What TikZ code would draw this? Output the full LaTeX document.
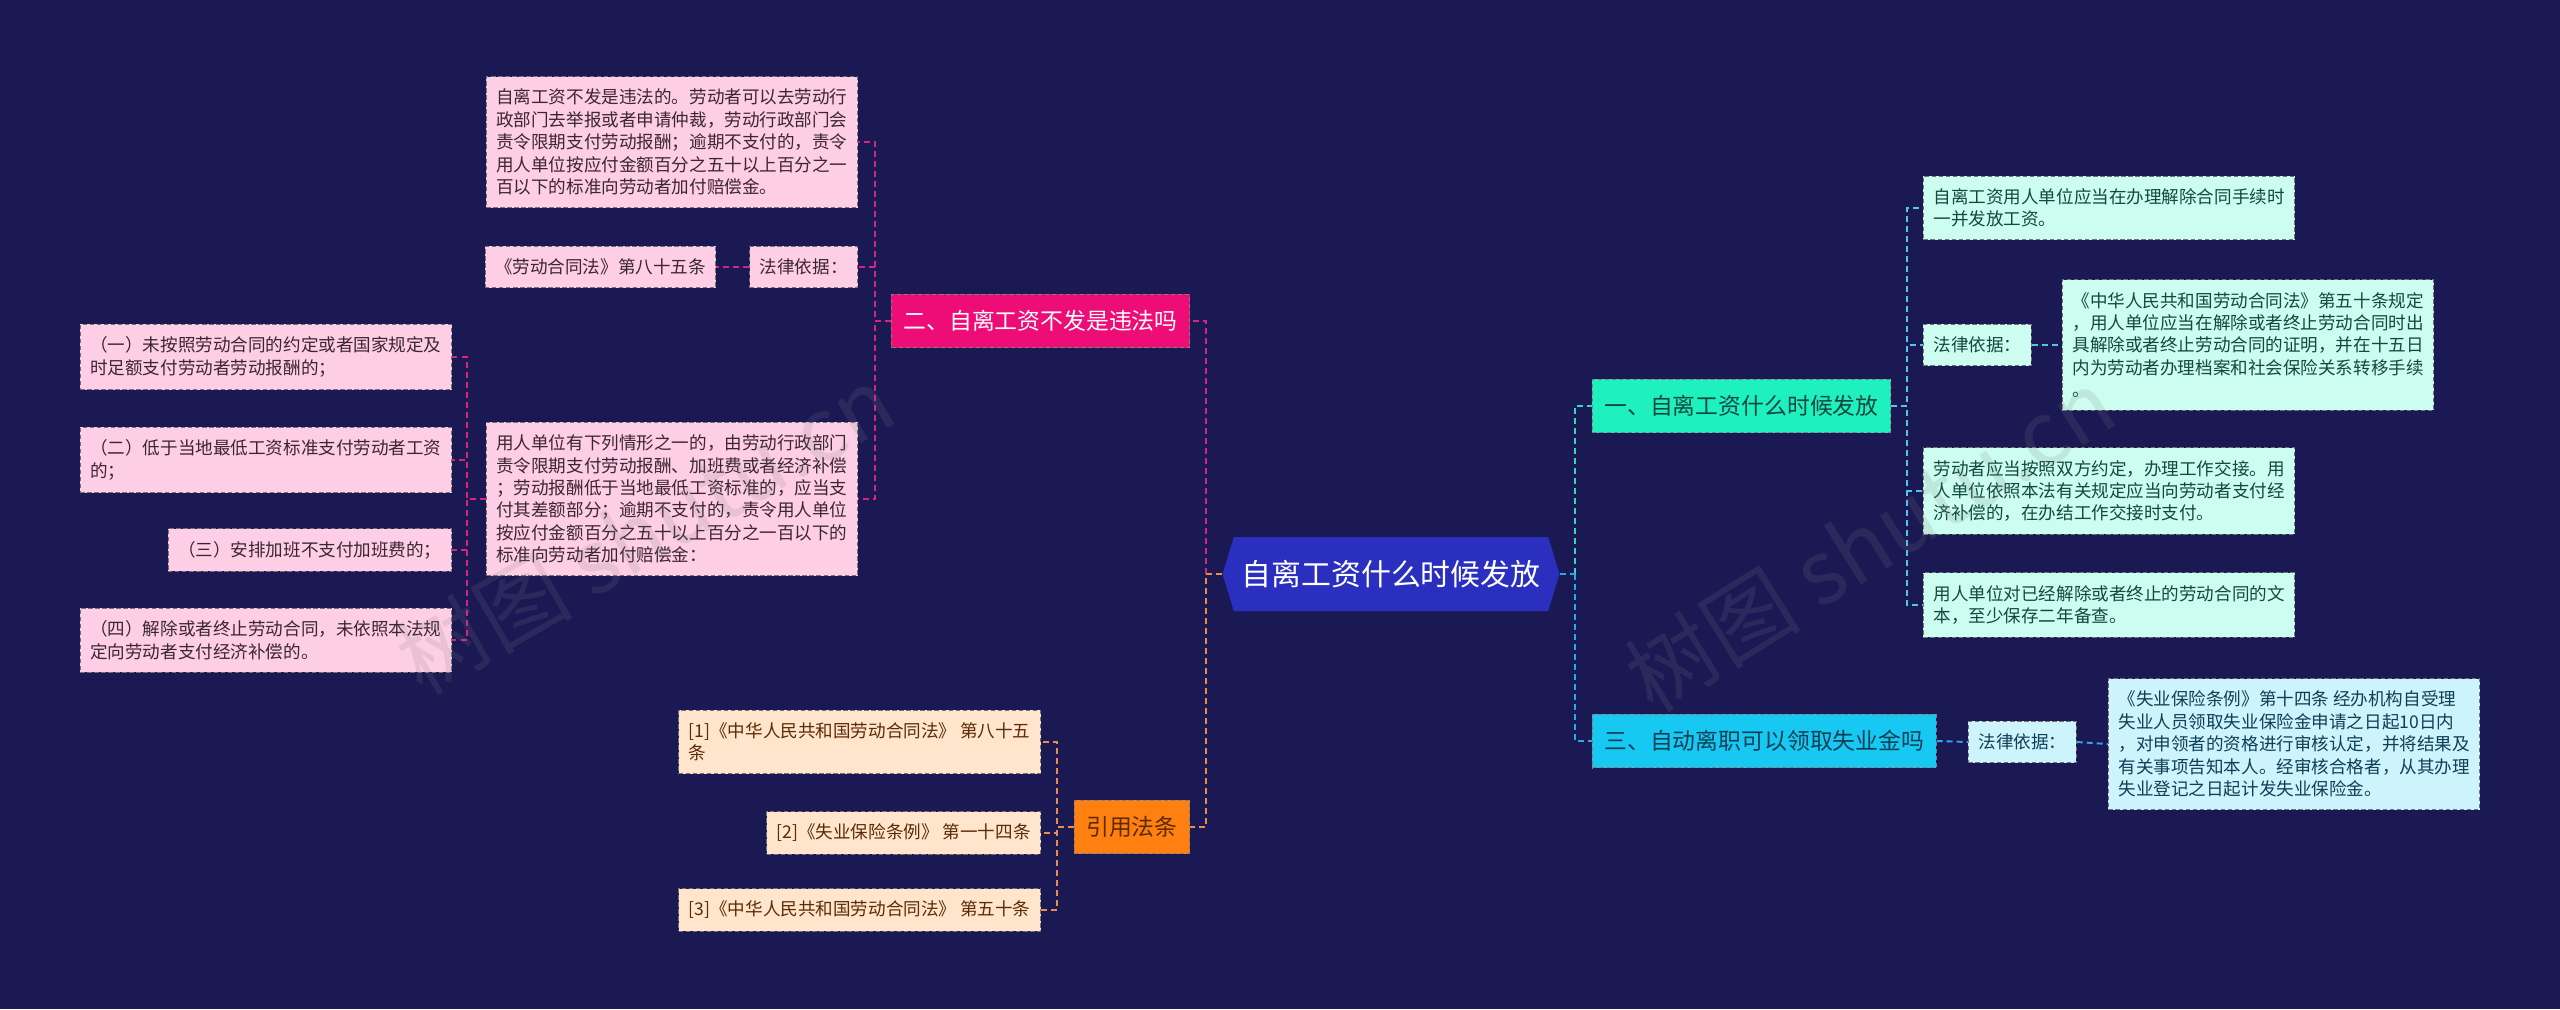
\documentclass[tikz,border=0pt]{standalone}
\usepackage{fontspec}
\setmainfont{Noto Sans CJK SC}
\usetikzlibrary{shapes.symbols,positioning,calc}
\definecolor{bg}{HTML}{1B1954}
\definecolor{rootc}{HTML}{2B2FC0}
\definecolor{pkc}{HTML}{EE0C76}
\definecolor{pkl}{HTML}{FDCEE5}
\definecolor{pkt}{HTML}{3C2535}
\definecolor{orc}{HTML}{FF7F10}
\definecolor{orl}{HTML}{FFE5CC}
\definecolor{ort}{HTML}{5C2A05}
\definecolor{gnc}{HTML}{1EF0C0}
\definecolor{gnl}{HTML}{CCFDF0}
\definecolor{gnt}{HTML}{12493F}
\definecolor{blc}{HTML}{17C9F2}
\definecolor{bll}{HTML}{CDF3FC}
\definecolor{blt}{HTML}{0F3F55}
\definecolor{pkd}{HTML}{D8237F}
\definecolor{ord}{HTML}{EE8C46}
\definecolor{gnd}{HTML}{3AD6BE}
\definecolor{bld}{HTML}{2BA8E8}
\definecolor{cyd}{HTML}{52C8E8}
\tikzset{
  leaf/.style={draw=black!55,dash pattern=on 2.5pt off 1.5pt,line width=0.5pt,align=left,font=\fontsize{10}{12.75}\selectfont,inner xsep=0.2cm,inner ysep=0.25cm},
  pkleaf/.style={leaf,fill=pkl,text=pkt},
  orleaf/.style={leaf,fill=orl,text=ort},
  gnleaf/.style={leaf,fill=gnl,text=gnt},
  blleaf/.style={leaf,fill=bll,text=blt},
  br/.style={draw=black!50,dash pattern=on 2.5pt off 1.5pt,line width=0.5pt,font=\fontsize{13}{15}\selectfont,inner xsep=0.24cm,inner ysep=0.32cm},
  pkbr/.style={br,fill=pkc,text=white},
  orbr/.style={br,fill=orc,text=ort},
  gnbr/.style={br,fill=gnc,text=gnt},
  blbr/.style={br,fill=blc,text=blt},
  root/.style={signal,signal to=west and east,signal pointer angle=146,fill=rootc,text=white,font=\fontsize{17}{20}\selectfont,minimum width=6.74cm,minimum height=1.48cm,inner sep=0pt},
  ln/.style={line width=1.1pt,dash pattern=on 3.4pt off 2.3pt},
  pkln/.style={ln,draw=pkd},
  orln/.style={ln,draw=ord},
  gnln/.style={ln,draw=gnd},
  blln/.style={ln,draw=bld},
  cyln/.style={ln,draw=cyd},
  mark wm/.style={text=gray,opacity=0.16,font=\fontsize{50}{50}\selectfont}
}

\begin{document}
\begin{tikzpicture}[x=0.02cm,y=-0.02cm]
\fill[bg](0,0)rectangle(2560,1009);
% trunks
\coordinate(tl)at(1206,0);
\coordinate(tr)at(1575,0);
\coordinate(ta)at(875,0);
\coordinate(tb)at(467,0);
\coordinate(tc)at(1057,0);
\coordinate(td)at(1907,0);
\node[root](root)at(1391,574){自离工资什么时候发放};
% left
\node[pkbr,anchor=east](b2)at(1190,321){二、自离工资不发是违法吗};
\node[pkleaf,anchor=east](p1)at(858,142){自离工资不发是违法的。劳动者可以去劳动行\\政部门去举报或者申请仲裁，劳动行政部门会\\责令限期支付劳动报酬；逾期不支付的，责令\\用人单位按应付金额百分之五十以上百分之一\\百以下的标准向劳动者加付赔偿金。};
\node[pkleaf,anchor=east](plaw)at(858,267){法律依据：};
\node[pkleaf,left=0.66cm of plaw](plawref){《劳动合同法》第八十五条};
\node[pkleaf,anchor=east](p3)at(858,499){用人单位有下列情形之一的，由劳动行政部门\\责令限期支付劳动报酬、加班费或者经济补偿\\；劳动报酬低于当地最低工资标准的，应当支\\付其差额部分；逾期不支付的，责令用人单位\\按应付金额百分之五十以上百分之一百以下的\\标准向劳动者加付赔偿金：};
\node[pkleaf,anchor=east](q1)at(452,357){（一）未按照劳动合同的约定或者国家规定及\\时足额支付劳动者劳动报酬的；};
\node[pkleaf,anchor=east](q2)at(452,460){（二）低于当地最低工资标准支付劳动者工资\\的；};
\node[pkleaf,anchor=east](q3)at(452,550){（三）安排加班不支付加班费的；};
\node[pkleaf,anchor=east](q4)at(452,640){（四）解除或者终止劳动合同，未依照本法规\\定向劳动者支付经济补偿的。};
\node[orbr,anchor=east](b4)at(1190,827){引用法条};
\node[orleaf,anchor=east](c1)at(1041,742){[1]《中华人民共和国劳动合同法》 第八十五\\条};
\node[orleaf,anchor=east](c2)at(1041,833){[2]《失业保险条例》 第一十四条};
\node[orleaf,anchor=east](c3)at(1041,910){[3]《中华人民共和国劳动合同法》 第五十条};
% right
\node[gnbr,anchor=west](b1)at(1592,406){一、自离工资什么时候发放};
\node[blbr,anchor=west](b3)at(1592,741){三、自动离职可以领取失业金吗};
\node[gnleaf,anchor=west](g1)at(1923,208){自离工资用人单位应当在办理解除合同手续时\\一并发放工资。};
\node[gnleaf,anchor=west](glaw)at(1923,345){法律依据：};
\node[gnleaf,anchor=west](glawref)at(2062,345){《中华人民共和国劳动合同法》第五十条规定\\，用人单位应当在解除或者终止劳动合同时出\\具解除或者终止劳动合同的证明，并在十五日\\内为劳动者办理档案和社会保险关系转移手续\\。};
\node[gnleaf,anchor=west](g3)at(1923,491){劳动者应当按照双方约定，办理工作交接。用\\人单位依照本法有关规定应当向劳动者支付经\\济补偿的，在办结工作交接时支付。};
\node[gnleaf,anchor=west](g4)at(1923,605){用人单位对已经解除或者终止的劳动合同的文\\本，至少保存二年备查。};
\node[blleaf,anchor=west](hlaw)at(1968,742){法律依据：};
\node[blleaf,anchor=west](hlawref)at(2108,744){《失业保险条例》第十四条 经办机构自受理\\失业人员领取失业保险金申请之日起10日内\\，对申领者的资格进行审核认定，并将结果及\\有关事项告知本人。经审核合格者，从其办理\\失业登记之日起计发失业保险金。};
% connectors
\draw[pkln](root.west-|tl)|-(b2.east);
\draw[orln](root.west)--(root.west-|tl)|-(b4.east);
\foreach \c in {p1,plaw,p3}{\draw[pkln](b2.west)--(b2.west-|ta)|-(\c.east);}
\draw[pkln](plaw.west)--(plawref.east);
\foreach \c in {q1,q2,q3,q4}{\draw[pkln](p3.west)--(p3.west-|tb)|-(\c.east);}
\foreach \c in {c1,c2,c3}{\draw[orln](b4.west)--(b4.west-|tc)|-(\c.east);}
\draw[gnln](root.east-|tr)|-(b1.west);
\draw[blln](root.east-|tr)|-(b3.west);
\draw[blln](root.east)--(root.east-|tr);
\foreach \c in {g1,glaw,g3,g4}{\draw[cyln](b1.east)--(b1.east-|td)|-(\c.west);}
\draw[cyln](glaw.east)--(glawref.west);
\draw[blln](b3.east)--(hlaw.west);
\draw[blln](hlaw.east)--(hlawref.west);
% watermark
\node[mark wm,rotate=30](wm1)at(645,530){树图 shutu.cn};
\node[mark wm,rotate=32](wm2)at(1870,540){树图 shutu.cn};
\end{tikzpicture}
\end{document}
